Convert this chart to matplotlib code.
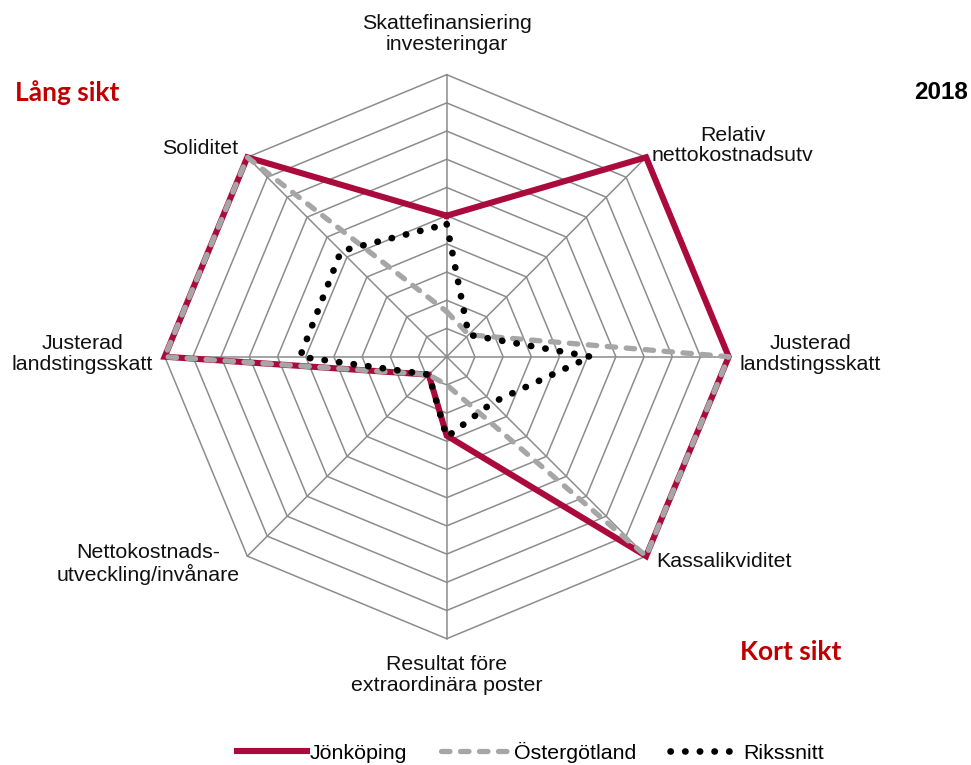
import numpy as np
import matplotlib.pyplot as plt

# axlar medurs, med start rakt upp
categories = [
    "Skattefinansiering\ninvesteringar",
    "Relativ\nnettokostnadsutv",
    "Justerad\nlandstingsskatt",
    "Kassalikviditet",
    "Resultat före\nextraordinära poster",
    "Nettokostnads-\nutveckling/invånare",
    "Justerad\nlandstingsskatt",
    "Soliditet",
]
jonkoping = [5.0, 10, 10, 10, 2.8, 0.9, 10, 10]
ostergotland = [1.6, 1.1, 10, 10, 1.0, 0.9, 10, 10]
rikssnitt = [4.7, 1.1, 5.1, 2.3, 2.85, 0.9, 5.2, 5.3]
ring_levels = list(range(1, 11))

# etikettplacering: (x, y, ha) i dataenheter
label_pos = [
    (0.0, 11.44, "center"),
    (7.28, 7.49, "left"),
    (10.4, 0.1, "left"),
    (7.42, -7.28, "left"),
    (0.0, -11.29, "center"),
    (-7.33, -7.35, "right"),
    (-10.41, 0.1, "right"),
    (-7.4, 7.4, "right"),
]

plt.rcParams["font.family"] = ["Liberation Sans", "DejaVu Sans"]

PX = 28.2            # pixlar per enhet
CX, CY = 446.7, 356.7
W, H = 971, 765

angles = np.deg2rad(90 - 45 * np.arange(len(categories)))


def to_xy(values):
    r = np.asarray(values, dtype=float)
    x = r * np.cos(angles)
    y = r * np.sin(angles)
    return np.append(x, x[0]), np.append(y, y[0])


def px(xp, yp):
    # pixel (från övre vänstra hörnet) -> dataenheter
    return (xp - CX) / PX, (CY - yp) / PX


fig = plt.figure(figsize=(W / 100, H / 100), dpi=100)
ax = fig.add_axes([0, 0, 1, 1])
ax.set_xlim(-CX / PX, (W - CX) / PX)
ax.set_ylim(-(H - CY) / PX, CY / PX)
ax.axis("off")

grid_col = "#8C8C8C"
for lvl in ring_levels:
    gx, gy = to_xy([lvl] * len(categories))
    ax.plot(gx, gy, color=grid_col, lw=1.1, zorder=1)
for a in angles:
    ax.plot([0, 10 * np.cos(a)], [0, 10 * np.sin(a)], color=grid_col, lw=1.1, zorder=1)

x, y = to_xy(jonkoping)
ax.plot(x, y, color="#AA0A3C", lw=4.4, solid_joinstyle="miter", zorder=3, label="Jönköping")
x, y = to_xy(ostergotland)
ax.plot(x, y, color="#A6A6A6", lw=3.8, dashes=(1.6, 2.0), dash_capstyle="round",
        zorder=4, label="Östergötland")
x, y = to_xy(rikssnitt)
ax.plot(x, y, color="black", lw=4.8, dashes=(0.05, 2.15), dash_capstyle="round",
        zorder=5, label="Rikssnitt")

for cat, (lx, ly, ha) in zip(categories, label_pos):
    ax.text(lx, ly, cat, ha=ha, va="center", multialignment="center",
            fontsize=15.4, color="#111111", linespacing=1.12)

ax.text(*px(15, 93), "Lång sikt", family=["Lato", "DejaVu Sans"],
        fontweight="bold", fontsize=19, color="#C00000", ha="left", va="center")
ax.text(*px(740, 652), "Kort sikt", family=["Lato", "DejaVu Sans"],
        fontweight="bold", fontsize=19, color="#C00000", ha="left", va="center")
ax.text(*px(968, 93), "2018", fontweight="bold", fontsize=17.5,
        color="black", ha="right", va="center")

fig.legend(loc="center", bbox_to_anchor=(0.546, 13 / H), ncol=3, frameon=False,
           fontsize=15.4, handlelength=3.3, handletextpad=0.1, columnspacing=1.6,
           borderpad=0)

fig.savefig("out.png", dpi=100)
